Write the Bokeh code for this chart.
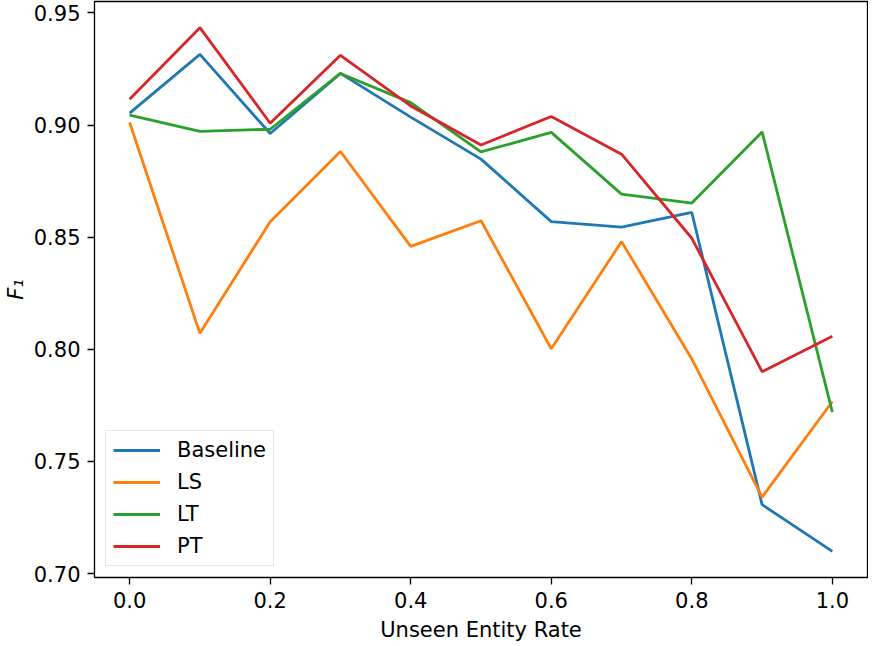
from bokeh.plotting import figure
from bokeh.models import Range1d, FixedTicker, Legend, LegendItem, CustomJSTickFormatter
from bokeh.embed import file_html
from bokeh.resources import INLINE

rates = [0.0, 0.1, 0.2, 0.3, 0.4, 0.5, 0.6, 0.7, 0.8, 0.9, 1.0]
baseline = [0.9053, 0.9315, 0.8962, 0.9230, 0.9035, 0.8848, 0.8569, 0.8545, 0.8610, 0.7307, 0.7099]
ls = [0.9011, 0.8071, 0.8569, 0.8882, 0.8459, 0.8573, 0.8002, 0.8480, 0.7957, 0.7341, 0.7767]
lt = [0.9044, 0.8972, 0.8981, 0.9230, 0.9100, 0.8880, 0.8967, 0.8692, 0.8652, 0.8969, 0.7720]
pt = [0.9115, 0.9434, 0.9008, 0.9311, 0.9085, 0.8911, 0.9038, 0.8870, 0.8495, 0.7900, 0.8058]

series_names = ["Baseline", "LS", "LT", "PT"]
series_values = [baseline, ls, lt, pt]
colors = ["#1f77b4", "#ff7f0e", "#2ca02c", "#d62728"]

x_ticks = [0.0, 0.2, 0.4, 0.6, 0.8, 1.0]
y_ticks = [0.70, 0.75, 0.80, 0.85, 0.90, 0.95]

FONT = "DejaVu Sans"
FS = "21px"

all_y = [v for s in series_values for v in s]
ymin, ymax = min(all_y), max(all_y)
ypad = (ymax - ymin) * 0.05
xpad = (max(rates) - min(rates)) * 0.05

p = figure(width=868, height=644, output_backend="svg", toolbar_location=None,
           x_range=Range1d(min(rates) - xpad, max(rates) + xpad),
           y_range=Range1d(ymin - ypad, ymax + ypad),
           min_border_left=80, min_border_right=1, min_border_top=1, min_border_bottom=10)

p.background_fill_color = "white"
p.border_fill_color = "white"
p.outline_line_color = "black"
p.outline_line_width = 1.3
p.xgrid.visible = False
p.ygrid.visible = False

items = []
for name, vals, c in zip(series_names, series_values, colors):
    r = p.line(rates, vals, line_color=c, line_width=2.8)
    items.append(LegendItem(label=name, renderers=[r]))

legend = Legend(items=items, location="bottom_left", margin=11,
                padding=7, spacing=8, glyph_width=47, glyph_height=20,
                label_height=20, label_standoff=17,
                label_text_font=FONT, label_text_font_size=FS,
                label_text_color="black",
                border_line_color="#cccccc", border_line_width=1.3,
                background_fill_color="white", background_fill_alpha=0.8)
p.add_layout(legend, "center")

p.xaxis.ticker = FixedTicker(ticks=x_ticks)
p.yaxis.ticker = FixedTicker(ticks=y_ticks)
p.xaxis.formatter = CustomJSTickFormatter(code="return tick.toFixed(1);")
p.yaxis.formatter = CustomJSTickFormatter(code="return tick.toFixed(2);")

for ax in (p.xaxis[0], p.yaxis[0]):
    ax.axis_line_color = None
    ax.major_tick_out = 7
    ax.major_tick_in = 0
    ax.major_tick_line_width = 1.3
    ax.minor_tick_out = 0
    ax.minor_tick_in = 0
    ax.major_label_text_font = FONT
    ax.major_label_text_font_size = FS
    ax.major_label_text_color = "black"
    ax.major_label_standoff = 7
    ax.axis_label_text_font = FONT
    ax.axis_label_text_font_size = FS
    ax.axis_label_text_font_style = "normal"
    ax.axis_label_text_color = "black"

p.xaxis.axis_label = "Unseen Entity Rate"
p.xaxis.axis_label_standoff = 7
p.yaxis.axis_label = "F\u2081"
p.yaxis.axis_label_text_font_style = "italic"
p.yaxis.axis_label_standoff = 3

open("out.html", "w").write(file_html(p, INLINE))
